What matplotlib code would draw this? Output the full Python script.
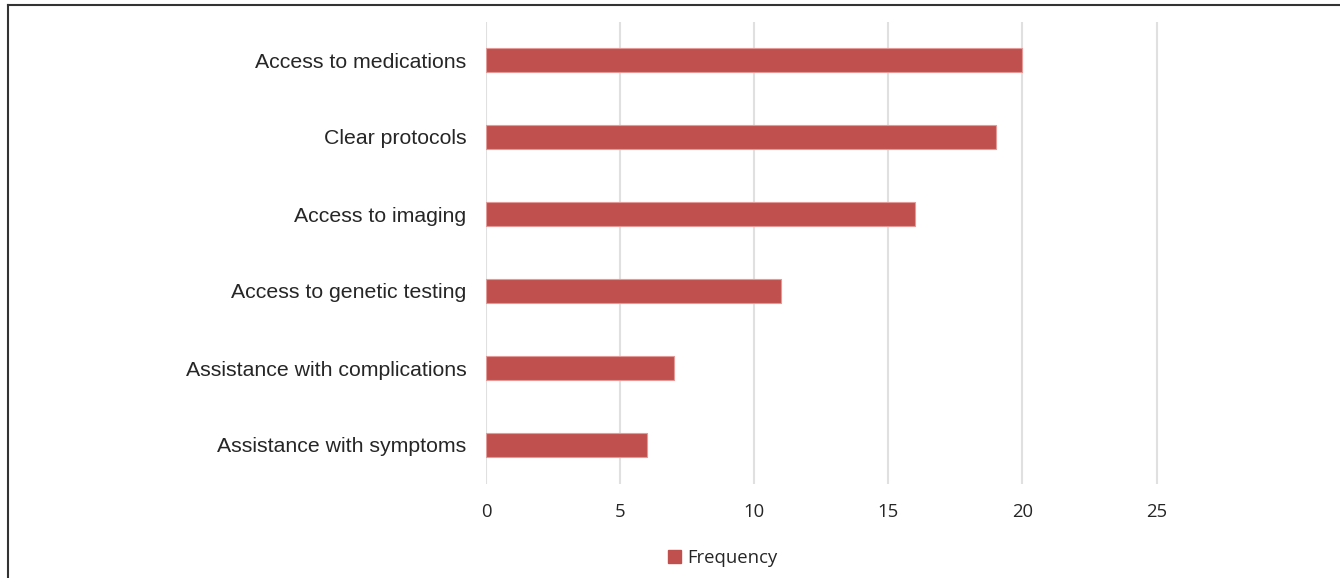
import matplotlib
matplotlib.use("Agg")
import matplotlib.pyplot as plt
from matplotlib.lines import Line2D
from matplotlib.patches import Patch

categories = [
    "Access to medications",
    "Clear protocols",
    "Access to imaging",
    "Access to genetic testing",
    "Assistance with complications",
    "Assistance with symptoms",
]
frequency = [20, 19, 16, 11, 7, 6]
x_ticks = [0, 5, 10, 15, 20, 25]

bar_color = "#C0504D"
grid_color = "#E0E0E0"
text_color = "#262626"

W, H = 1340, 578
fig = plt.figure(figsize=(W / 100, H / 100), dpi=100)
ax = fig.add_axes([486 / W, 1 - 483.5 / H, (1290.6 - 486) / W, (483.5 - 21.5) / H])

y = list(range(len(categories)))
ax.barh(y, frequency, height=0.31, color=bar_color, edgecolor="#E39A98",
        linewidth=0.8, zorder=3)

ax.set_ylim(len(categories) - 0.5, -0.5)
ax.set_xlim(0, 30)
ax.set_xticks(x_ticks)
ax.set_xticklabels([str(t) for t in x_ticks], fontfamily="Open Sans",
                   fontsize=13.3, color=text_color)
ax.set_yticks(y)
ax.set_yticklabels(categories, fontfamily="Liberation Sans", fontsize=15.3,
                   color=text_color)
ax.tick_params(axis="x", length=0, pad=14)
ax.tick_params(axis="y", length=0, pad=14)

for t in x_ticks:
    ax.axvline(t, color=grid_color, linewidth=1.5, zorder=1)

for s in ax.spines.values():
    s.set_visible(False)

# chart frame (left and top edges)
fig.add_artist(Line2D([8 / W, 8 / W], [0, 1 - 5 / H], transform=fig.transFigure,
                      color="#333333", linewidth=1.5))
fig.add_artist(Line2D([8 / W, 1], [1 - 5 / H, 1 - 5 / H], transform=fig.transFigure,
                      color="#333333", linewidth=1.5))

handle = Patch(facecolor=bar_color, edgecolor=bar_color)
fig.legend([handle], ["Frequency"], loc="center", bbox_to_anchor=(723 / W, 1 - 558 / H),
           frameon=False, handlelength=0.7, handleheight=0.7, handletextpad=0.35,
           prop={"family": "Open Sans", "size": 13.3}, labelcolor=text_color)

fig.savefig("out.png", dpi=100, facecolor="white")
